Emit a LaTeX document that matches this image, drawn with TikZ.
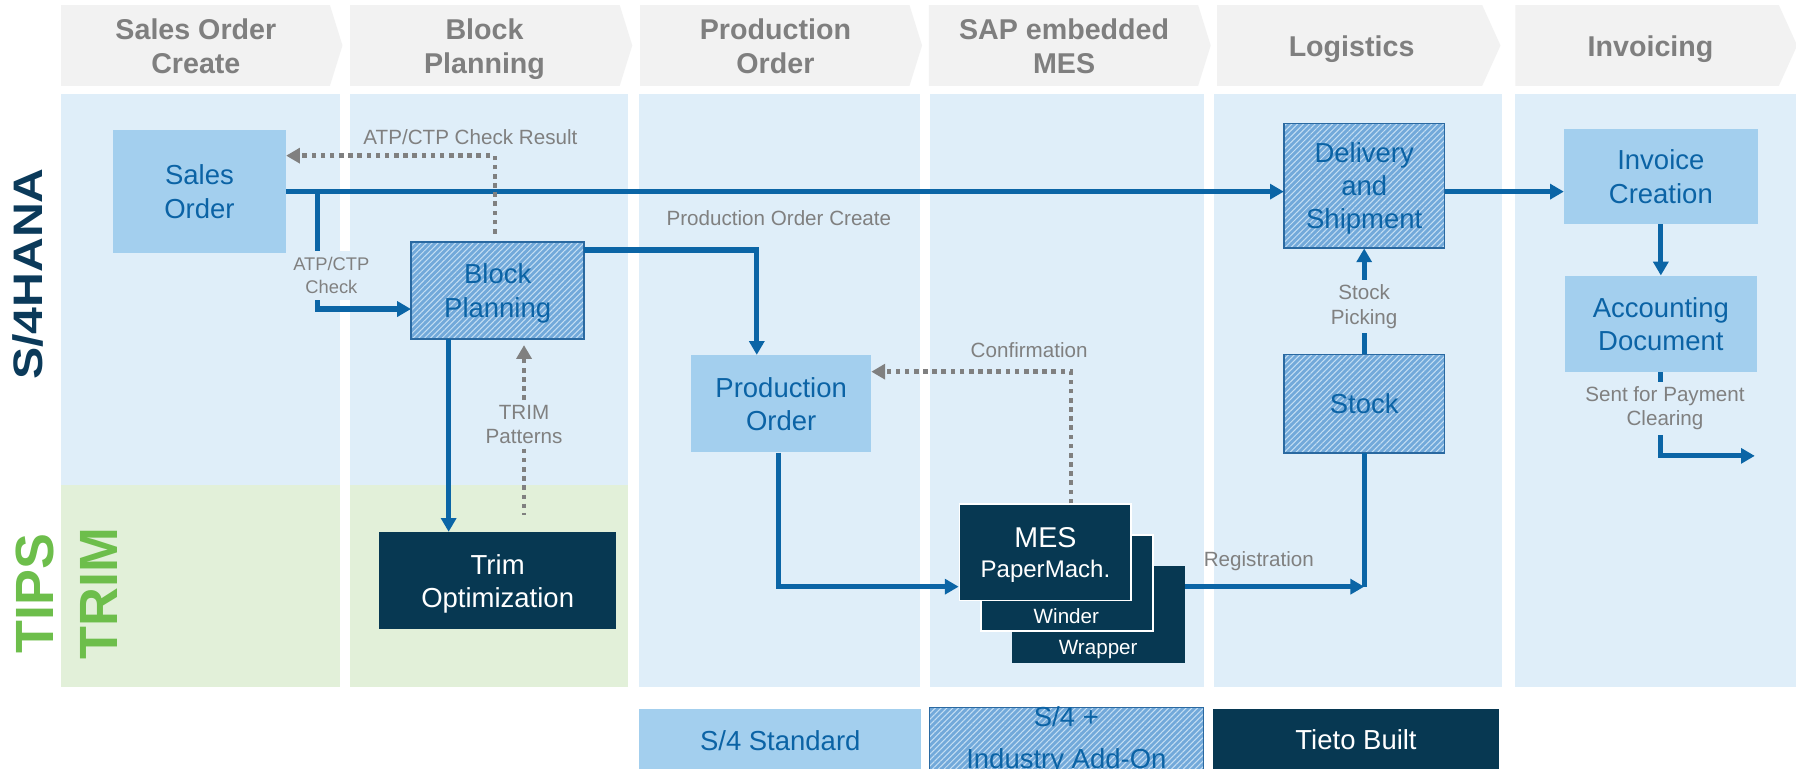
\documentclass[tikz,border=0pt]{standalone}
\usepackage{fontspec}
\setmainfont{Liberation Sans}
\usepackage{graphicx}
\usetikzlibrary{arrows.meta,patterns.meta}
\definecolor{panelblue}{HTML}{DFEEF9}
\definecolor{panelgreen}{HTML}{E2F0D9}
\definecolor{chevgray}{HTML}{F2F2F2}
\definecolor{headgray}{HTML}{7F7F7F}
\definecolor{lightbox}{HTML}{A3CFEE}
\definecolor{txtblue}{HTML}{0B63A5}
\definecolor{lineblue}{HTML}{0B65A6}
\definecolor{navy}{HTML}{073852}
\definecolor{hananavy}{HTML}{0B3A5A}
\definecolor{hatchbase}{HTML}{72A9DA}
\definecolor{hatchline}{HTML}{C4DEF3}
\definecolor{hatchborder}{HTML}{2A69A1}
\definecolor{tipsgreen}{HTML}{6DBE4B}
\definecolor{lblgray}{HTML}{808080}
\begin{document}
\begin{tikzpicture}[x=1pt,y=-1pt,
  headtxt/.style={font=\fontsize{25}{30}\selectfont\bfseries, text=headgray, align=center, inner sep=0, anchor=base},
  boxtext/.style={inner sep=0, align=center, font=\fontsize{24}{29}\selectfont, text depth=0pt},
  lightbx/.style={boxtext, fill=lightbox, text=txtblue},
  hatchfill/.style={fill=hatchbase,
     postaction={pattern={Lines[angle=45,distance=3.6pt,line width=0.9pt]}, pattern color=hatchline},
     postaction={draw=hatchborder, line width=1.3pt}},
  hatchbx/.style={boxtext, hatchfill, text=txtblue},
  navybx/.style={boxtext, fill=navy, text=white},
  lbl/.style={text=lblgray, align=center, font=\fontsize{18}{21.5}\selectfont, inner sep=4pt},
  flow/.style={draw=lineblue, line width=4.5pt, -{Triangle[length=12pt,width=13pt]}},
  plainline/.style={draw=lineblue, line width=4.5pt},
  dotflow/.style={draw=lblgray, line width=4pt, dash pattern=on 4pt off 4pt, -{Triangle[length=12pt,width=13pt]}},
  dotline/.style={draw=lblgray, line width=4pt, dash pattern=on 4pt off 4pt},
]
\useasboundingbox (0,0) rectangle (1568,671);
\clip (0,0) rectangle (1568,671);
\fill[white] (0,0) rectangle (1568,671);

% header chevrons
\foreach \a/\b/\t in {53.4/288/299, 305.7/541/552, 558.8/794/805, 811/1046/1057, 1062.5/1294/1310, 1323/1553/1569}{
  \fill[chevgray] (\a,4.4) -- (\b,4.4) -- (\t,39.7) -- (\b,75) -- (\a,75) -- cycle;
}
\node[headtxt] (h1) at (171,64.3) {Sales Order\\Create};
\node[headtxt] (h2) at (423,64.3) {Block\\Planning};
\node[headtxt] (h3) at (677,64.3) {Production\\Order};
\node[headtxt] (h4) at (929,64.3) {SAP embedded\\MES};
\node[headtxt] (h5) at (1180,49.6) {Logistics};
\node[headtxt] (h6) at (1441,49.6) {Invoicing};

% panels
\foreach \a/\b in {53.4/296.7, 306/547.9, 558.2/802.8, 812.3/1051, 1060.3/1311.5, 1322.3/1568}{
  \fill[panelblue] (\a,82.4) rectangle (\b,600);
}
\fill[panelgreen] (53.4,423.4) rectangle (296.7,600);
\fill[panelgreen] (306,423.4) rectangle (547.9,600);

% side labels
\node[rotate=90, text=hananavy, font=\fontsize{36}{36}\selectfont\bfseries, inner sep=0] (hana) at (24.5,239.3) {\scalebox{1.17}[1]{S/4HANA}};
\node[rotate=90, text=tipsgreen, font=\fontsize{47}{47}\selectfont\bfseries, inner sep=0] (tips) at (30.5,518.4) {TIPS};
\node[rotate=90, text=tipsgreen, font=\fontsize{47}{47}\selectfont\bfseries, inner sep=0] (trimlbl) at (86.7,518) {TRIM};

% process boxes
\node[lightbx, minimum width=151pt, minimum height=108pt] (so) at (174.1,167.3) {Sales\\Order};
\node[hatchbx, minimum width=151pt, minimum height=85pt] (bp) at (434.5,253.6) {Block\\Planning};
\node[lightbx, minimum width=157pt, minimum height=85pt] (po) at (682,352.5) {Production\\Order};
\node[navybx, minimum width=207pt, minimum height=85pt] (trim) at (434.5,507) {Trim\\Optimization};
\node[hatchbx, minimum width=140pt, minimum height=109pt] (del) at (1191,162.2) {Delivery\\and\\Shipment};
\node[hatchbx, minimum width=140pt, minimum height=86pt] (stock) at (1191,352.6) {Stock};
\node[lightbx, minimum width=169pt, minimum height=83pt] (inv) at (1450,154.2) {Invoice\\Creation};
\node[lightbx, minimum width=168pt, minimum height=84pt] (acc) at (1450,282.7) {Accounting\\Document};

% MES stack
\node[navybx, minimum width=151pt, minimum height=85pt] (wrap) at (959.1,536.5) {};
\node[navybx, draw=white, line width=1.5pt, minimum width=150pt, minimum height=84pt] (wind) at (931.6,509.2) {};
\node[navybx, draw=white, line width=1.5pt, minimum width=150pt, minimum height=84pt, font=\fontsize{25}{28}\selectfont] (mes) at (912.7,482.2) {MES\\[-2pt]{\fontsize{21}{25}\selectfont PaperMach.}};
\node[text=white, font=\fontsize{18}{21}\selectfont, inner sep=0, anchor=base] (windtxt) at (931,544.2) {Winder};
\node[text=white, font=\fontsize{18}{21}\selectfont, inner sep=0, anchor=base] (wraptxt) at (958.8,571.8) {Wrapper};

% connectors (drawn before labels that sit on them)
\draw[flow] (so.east) -- (so.east -| del.west);
\draw[flow] ([xshift=27.7pt]so.east) |- ([yshift=-16.2pt]bp.west);
\draw[dotflow, shorten <=7pt] ([xshift=-2.5pt]bp.north) |- ([yshift=31.4pt]so.east);
\draw[flow] ([yshift=35.3pt]bp.east) -| ([xshift=-21.3pt]po.north);
\draw[flow] ([xshift=-42.8pt]bp.south) -- ([xshift=-42.8pt]bp.south |- trim.north);
\draw[flow] ([xshift=-2.3pt]po.south) |- ([yshift=-30pt]mes.west);
\draw[dotflow] ([xshift=22.3pt]mes.north) |- ([yshift=28pt]po.east);
\coordinate (reg) at ([yshift=-30pt]mes.east -| stock.south);
\draw[plainline] (stock.south) -- (reg);
\draw[flow] ([yshift=24.3pt]wrap.east) -- (reg);
\draw[flow] ([yshift=-5.1pt]del.east) -- ([yshift=-5.1pt]del.east -| inv.west);
\draw[flow] (inv.south) -- (acc.north);

% labels
\node[lbl] (res) at (410.7,119.3) {ATP/CTP Check Result};
\node[lbl, fill=panelblue, inner sep=5.5pt, font=\fontsize{16}{19.5}\selectfont] (atp) at (289.3,240.5) {ATP/CTP\\Check};
\node[lbl] (poc) at (680,190.6) {Production Order Create};
\node[lbl] (tp) at (457.5,370.5) {TRIM\\Patterns};
\node[lbl] (conf) at (898.5,306) {Confirmation};
\node[lbl] (reglbl) at (1099,490) {Registration};
\node[lbl] (sp) at (1191,267.5) {Stock\\Picking};
\node[lbl] (spc) at (1453.6,356.5) {Sent for Payment\\Clearing};

% connectors broken by labels
\draw[dotflow, shorten >=5pt] (tp.north) -- (tp.north |- bp.south);
\draw[dotline, shorten >=15pt] (tp.south) -- (tp.south |- trim.north);
\draw[plainline] (stock.north) -- (sp.south);
\draw[flow] (sp.north) -- (sp.north |- del.south);
\draw[plainline] (acc.south) -- (acc.south |- spc.north);
\coordinate (payend) at (1532,398);
\draw[flow] (acc.south |- spc.south) |- (payend);

% legend
\node[fill=lightbox, inner sep=0, minimum width=246.4pt, minimum height=80pt] (lg1) at (681.2,659) {};
\node[hatchfill, inner sep=0, minimum width=239.3pt, minimum height=80pt] (lg2) at (931,657.5) {};
\node[fill=navy, inner sep=0, minimum width=249.4pt, minimum height=80pt] (lg3) at (1183.9,659) {};
\node[text=txtblue, font=\fontsize{24}{29}\selectfont, inner sep=0] (lt1) at (681.2,646.9) {S/4 Standard};
\node[text=txtblue, font=\fontsize{24}{36}\selectfont, inner sep=0, align=center, anchor=base] (lt2) at (931,670.6) {S/4 +\\Industry Add-On};
\node[text=white, font=\fontsize{24}{29}\selectfont, inner sep=0] (lt3) at (1183.9,646) {Tieto Built};
\end{tikzpicture}
\end{document}
